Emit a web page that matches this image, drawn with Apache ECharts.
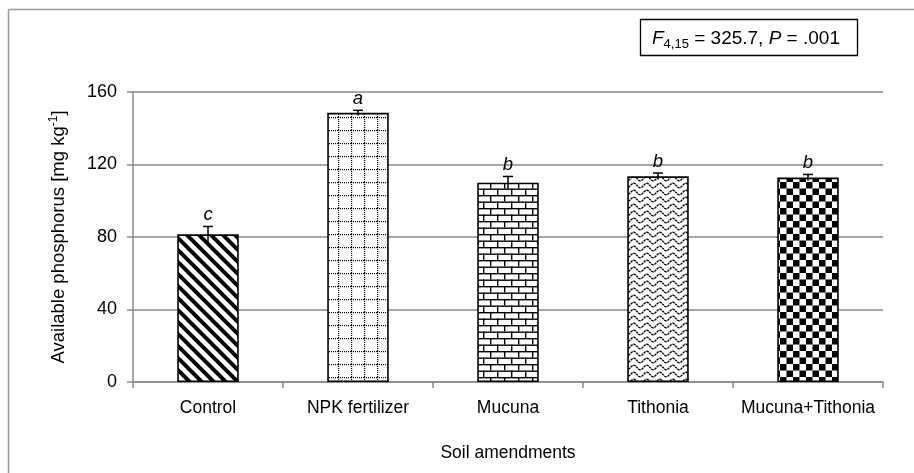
<!DOCTYPE html>
<html>
<head>
<meta charset="utf-8">
<script src="https://cdn.jsdelivr.net/npm/echarts@6/dist/echarts.min.js"></script>
<style>html,body{margin:0;padding:0;background:#fff}#c{width:914px;height:473px}</style>
</head>
<body>
<div id="c"></div>
<script>
var categories = ['Control', 'NPK fertilizer', 'Mucuna', 'Tithonia', 'Mucuna+Tithonia'];
var means = [81.5, 148.5, 110, 113.5, 112.8];
var errors = [4.3, 1.4, 3.4, 1.8, 1.7];
var letters = ['c', 'a', 'b', 'b', 'b'];
var yTicks = [0, 40, 80, 120, 160];

function mk(w, h, draw) {
  var c = document.createElement('canvas');
  c.width = w; c.height = h;
  var g = c.getContext('2d');
  g.fillStyle = '#fff'; g.fillRect(0, 0, w, h);
  draw(g, w, h);
  return { image: c, repeat: 'repeat' };
}
var patStripes = mk(12, 12, function (g) {
  g.strokeStyle = '#000'; g.lineWidth = 4;
  for (var k = -1; k <= 1; k++) {
    g.beginPath(); g.moveTo(-4, -4 + k * 12); g.lineTo(16, 16 + k * 12); g.stroke();
  }
});
var patDots = mk(13, 13, function (g) {
  g.fillStyle = '#000';
  for (var i = 0; i < 13; i += 2) { g.fillRect(i, 0, 1, 1.2); g.fillRect(0, i, 1.2, 1); }
});
var patBrick = mk(14, 13, function (g) {
  g.fillStyle = '#000';
  g.fillRect(0, 0, 14, 1.4); g.fillRect(0, 6.5, 14, 1.4);
  g.fillRect(0, 0, 1.4, 6.5); g.fillRect(7, 6.5, 1.4, 6.5);
});
var patWave = mk(13, 7, function (g) {
  g.strokeStyle = '#000'; g.lineWidth = 1.4; g.setLineDash([2.5, 0.8]);
  g.beginPath();
  for (var x = -1; x <= 14; x += 0.5) {
    var y = 3.5 + 2.2 * Math.sin(x / 13 * 2 * Math.PI);
    if (x === -1) g.moveTo(x, y); else g.lineTo(x, y);
  }
  g.stroke();
});
var patCheck = mk(13, 13, function (g) {
  g.fillStyle = '#000';
  g.fillRect(0, 0, 6.5, 6.5); g.fillRect(6.5, 6.5, 6.5, 6.5);
});
var patterns = [patStripes, patDots, patBrick, patWave, patCheck];

var chart = echarts.init(document.getElementById('c'));
var FONT = 'Liberation Sans, Arial, sans-serif';
chart.setOption({
  animation: false,
  grid: { left: 133, right: 31, top: 92, bottom: 91 },
  graphic: [
    { type: 'line', shape: { x1: 8.5, y1: 9.5, x2: 8.5, y2: 473 }, style: { stroke: '#999', lineWidth: 1.5 } },
    { type: 'line', shape: { x1: 8.5, y1: 9.5, x2: 914, y2: 9.5 }, style: { stroke: '#999', lineWidth: 1.5 } },
    { type: 'rect', shape: { x: 640.5, y: 19.5, width: 217, height: 36 }, style: { fill: '#fff', stroke: '#000', lineWidth: 1.3 } },
    { type: 'text', x: 652, y: 39, style: {
        text: '{i|F}{s|4,15}{n| = 325.7, }{i|P}{n| = .001}',
        verticalAlign: 'middle', fontFamily: FONT,
        rich: {
          i: { fontStyle: 'italic', fontSize: 19, fontFamily: FONT, fill: '#000' },
          n: { fontSize: 19, fontFamily: FONT, fill: '#000' },
          s: { fontSize: 13, fontFamily: FONT, fill: '#000', verticalAlign: 'bottom', padding: [10, 0, 0, 0] }
        }
    } }
  ],
  xAxis: {
    type: 'category', data: categories,
    name: 'Soil amendments', nameLocation: 'middle', nameGap: 62,
    nameTextStyle: { fontFamily: FONT, fontSize: 17.5, color: '#000' },
    axisLine: { lineStyle: { color: '#888', width: 1.5 } },
    axisTick: { show: true, length: 6, interval: 0, lineStyle: { color: '#888', width: 1.5 } },
    axisLabel: { interval: 0, margin: 17, fontFamily: FONT, fontSize: 17.5, color: '#000' }
  },
  yAxis: {
    type: 'value', min: yTicks[0], max: yTicks[yTicks.length - 1], interval: yTicks[1] - yTicks[0],
    name: 'Available phosphorus [mg kg{sup|-1}]', nameLocation: 'middle', nameGap: 64, nameRotate: 90,
    nameTextStyle: { fontFamily: FONT, fontSize: 18.5, color: '#000',
      rich: { sup: { fontFamily: FONT, fontSize: 12, color: '#000', verticalAlign: 'top', padding: [0, 0, 9, 0] } } },
    axisLine: { show: true, lineStyle: { color: '#888', width: 1.5 } },
    axisTick: { show: true, length: 6, lineStyle: { color: '#888', width: 1.5 } },
    splitLine: { lineStyle: { color: '#888', width: 1.5 } },
    axisLabel: { margin: 16, fontFamily: FONT, fontSize: 18, color: '#000' }
  },
  series: [
    {
      type: 'bar', barWidth: '41%',
      data: means.map(function (v, i) {
        return { value: v, itemStyle: { color: patterns[i], borderColor: '#000', borderWidth: 1.6 } };
      })
    },
    {
      type: 'custom',
      data: means.map(function (v, i) { return [i, v, errors[i]]; }),
      renderItem: function (params, api) {
        var x = api.value(0), m = api.value(1), e = api.value(2);
        var hi = api.coord([x, m + e]), lo = api.coord([x, m - e]);
        var cap = 5;
        var lt = letters[params.dataIndex];
        return {
          type: 'group',
          children: [
            { type: 'line', shape: { x1: hi[0], y1: hi[1], x2: lo[0], y2: lo[1] }, style: { stroke: '#000', lineWidth: 1.5 } },
            { type: 'line', shape: { x1: hi[0] - cap, y1: hi[1], x2: hi[0] + cap, y2: hi[1] }, style: { stroke: '#000', lineWidth: 1.5 } },
            { type: 'text', x: hi[0], y: hi[1] - 2, style: { text: lt, fontStyle: 'italic', fontSize: 18.5, fontFamily: FONT, fill: '#000', align: 'center', verticalAlign: 'bottom' } }
          ]
        };
      },
      z: 5
    }
  ]
});
</script>
</body>
</html>
